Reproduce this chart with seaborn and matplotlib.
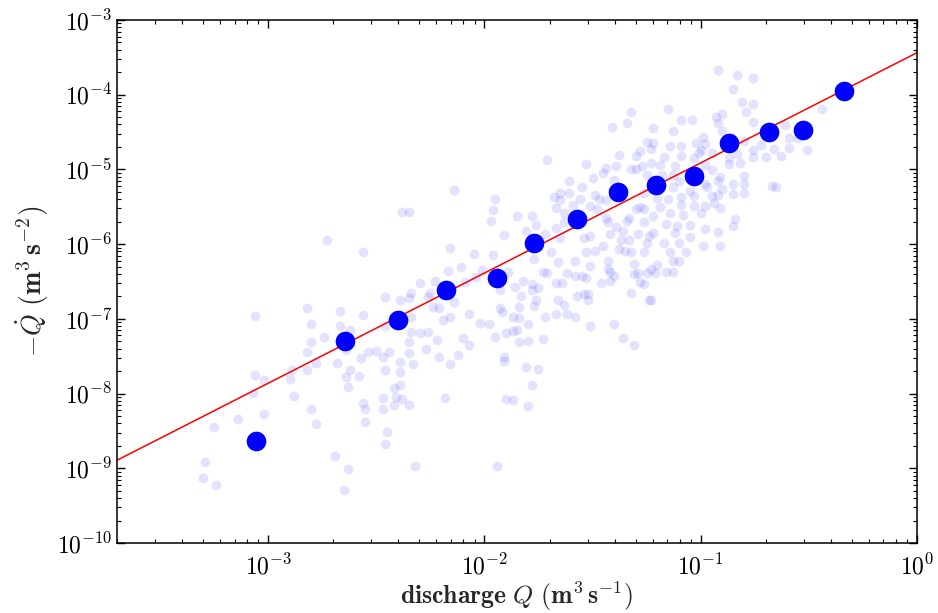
import numpy as np
import pandas as pd
import matplotlib
matplotlib.use("Agg")
import matplotlib.pyplot as plt
import seaborn as sns

# individual events, log10 of values
log_Q_events = [
    -2.73, -2.82, -2.67, -3.06, -2.80, -2.67, -2.74, -2.80, -2.82, -2.64,
    -2.78, -2.68, -2.82, -2.89, -2.90, -3.06, -3.02, -3.07, -2.88, -2.64,
    -2.63, -2.80, -3.02, -3.14, -2.78, -3.25, -2.69, -3.29, -3.30, -3.24,
    -2.63, -2.65,
    -2.14, -1.95, -1.96, -2.38, -2.35, -1.97, -1.91, -2.16, -2.56, -2.05,
    -1.96, -2.11, -2.17, -2.01, -2.23, -2.30, -2.09, -2.04, -2.34, -2.25,
    -2.46, -2.39, -2.35, -2.26, -1.93, -2.14, -2.24, -2.21, -1.93, -1.92,
    -2.56, -2.16, -2.07, -2.34, -2.19, -2.02, -1.98, -2.46, -2.62, -2.34,
    -2.30, -2.26, -1.95, -1.90, -2.10, -2.22, -2.35, -2.07, -2.27, -2.50,
    -2.54, -2.44, -2.47, -2.35, -2.57, -2.21, -2.12, -1.91, -1.91, -2.39,
    -2.33, -2.16, -2.46, -2.39, -2.62, -2.58, -2.42, -2.39, -2.47, -2.41,
    -2.38, -2.18, -1.90, -2.56, -2.55, -2.47, -2.42, -2.35, -2.55, -2.45,
    -2.46, -2.32, -1.94,
    -1.32, -1.34, -1.41, -1.25, -1.28, -1.38, -1.30, -1.71, -1.53, -1.39,
    -1.44, -1.32, -1.30, -1.45, -1.25, -1.50, -1.61, -1.40, -1.55, -1.65,
    -1.61, -1.49, -1.68, -1.56, -1.47, -1.44, -1.65, -1.67, -1.59, -1.51,
    -1.48, -1.28, -1.26, -1.30, -1.85, -1.78, -1.63, -1.44, -1.33, -1.43,
    -1.34, -1.26, -1.76, -1.63, -1.67, -1.39, -1.36, -1.81, -1.72, -1.65,
    -1.54, -1.51, -1.42, -1.29, -1.24, -1.37, -1.33, -1.45, -1.38, -1.35,
    -1.32, -1.53, -1.49, -1.69, -1.26, -1.77, -1.66, -1.58, -1.43, -1.31,
    -1.51, -1.43, -1.42, -1.73, -1.71, -1.89, -1.62, -1.29, -1.58, -1.55,
    -1.53, -1.40, -1.25, -1.31, -1.82, -1.78, -1.86, -1.75, -1.67, -1.64,
    -1.46, -1.42, -1.28, -1.26,
    -1.78, -1.83, -1.76, -1.77, -1.66, -1.63, -1.57, -1.54, -1.52, -1.52,
    -1.32, -1.24, -1.84, -1.87, -1.84, -1.72, -1.67, -1.62, -1.58, -1.80,
    -1.51, -1.40, -1.87, -1.85, -1.73, -1.84, -1.80, -1.36, -1.31, -1.81,
    -1.75, -1.78, -1.87, -1.80,
    -0.92, -0.83, -0.76, -0.85, -0.81, -0.76, -1.15, -0.79, -0.90, -0.93,
    -1.09, -1.04, -0.92, -0.76, -1.22, -1.13, -0.90, -0.61, -0.99, -1.22,
    -1.02, -1.09, -1.14, -0.98, -0.80, -0.59, -1.23, -1.00, -1.01, -0.95,
    -0.83, -0.76, -0.72, -0.66, -0.59, -1.17, -1.09, -1.03, -0.87, -0.76,
    -0.70, -0.63, -1.27, -1.23, -1.19, -1.12, -0.98, -0.87, -0.82, -0.95,
    -1.18, -1.13, -0.91, -0.80, -1.10, -0.98, -0.92, -0.85, -0.80, -1.13,
    -1.05, -0.97, -0.90, -0.67, -0.65, -1.26, -1.20, -1.15, -1.09, -1.03,
    -0.95, -0.92, -0.85, -0.80, -1.19, -1.09, -1.03, -0.98, -0.94, -0.91,
    -1.14, -1.08, -1.00, -1.22, -0.84, -1.16, -1.11, -1.05, -0.98, -0.85,
    -1.22, -1.12, -1.05, -0.92, -1.25, -1.17, -1.10, -0.99, -0.91, -1.14,
    -1.07,
    -1.13, -1.10, -1.20, -1.23, -1.21, -1.16, -1.13, -1.23,
    -0.44, -0.55, -0.51,
]
log_Qdot_events = [
    -5.94, -6.86, -6.89, -6.96, -7.07, -7.10, -7.24, -7.31, -7.45, -7.42,
    -7.59, -7.59, -7.68, -7.69, -7.81, -7.75, -7.82, -7.99, -8.03, -7.78,
    -7.91, -8.21, -8.27, -8.34, -8.41, -8.45, -8.84, -8.92, -9.13, -9.23,
    -9.01, -9.29,
    -5.28, -5.40, -5.54, -5.57, -5.57, -5.69, -5.88, -6.05, -6.10, -6.13,
    -6.15, -6.30, -6.36, -6.35, -6.49, -6.52, -6.51, -6.44, -6.66, -6.65,
    -6.71, -6.75, -6.72, -6.71, -6.62, -6.78, -6.84, -6.85, -6.86, -6.91,
    -6.95, -6.97, -6.93, -6.98, -7.02, -7.05, -7.07, -7.10, -7.15, -7.17,
    -7.19, -7.18, -7.24, -7.19, -7.26, -7.28, -7.31, -7.35, -7.40, -7.43,
    -7.45, -7.44, -7.51, -7.46, -7.52, -7.51, -7.48, -7.51, -7.56, -7.58,
    -7.60, -7.61, -7.68, -7.71, -7.69, -7.76, -7.92, -7.89, -8.06, -8.04,
    -8.07, -8.06, -8.07, -8.12, -8.20, -8.20, -8.15, -8.15, -8.38, -8.52,
    -8.68, -8.97, -8.97,
    -4.23, -4.38, -4.43, -4.63, -4.76, -4.81, -4.82, -4.87, -4.93, -4.95,
    -4.98, -4.99, -4.99, -5.05, -5.08, -5.11, -5.16, -5.14, -5.24, -5.31,
    -5.32, -5.34, -5.37, -5.39, -5.39, -5.41, -5.41, -5.51, -5.48, -5.49,
    -5.53, -5.50, -5.53, -5.53, -5.63, -5.62, -5.58, -5.65, -5.65, -5.71,
    -5.69, -5.71, -5.75, -5.70, -5.79, -5.77, -5.83, -5.83, -5.86, -5.92,
    -5.92, -5.89, -5.87, -5.86, -5.89, -5.95, -5.95, -6.03, -6.07, -6.09,
    -6.10, -6.10, -6.09, -6.11, -6.11, -6.20, -6.24, -6.22, -6.22, -6.26,
    -6.29, -6.33, -6.37, -6.37, -6.39, -6.37, -6.38, -6.38, -6.43, -6.42,
    -6.45, -6.42, -6.38, -6.40, -6.49, -6.54, -6.58, -6.59, -6.52, -6.52,
    -6.52, -6.49, -6.51, -6.54,
    -6.61, -6.69, -6.75, -6.83, -6.75, -6.81, -6.70, -6.67, -6.67, -6.75,
    -6.66, -6.75, -6.84, -6.97, -6.99, -6.98, -6.93, -6.93, -6.97, -7.07,
    -7.10, -7.07, -7.16, -7.15, -7.27, -7.31, -7.30, -7.26, -7.35, -7.64,
    -7.67, -7.88, -8.09, -8.16,
    -3.67, -3.74, -3.78, -3.93, -4.10, -4.13, -4.19, -4.23, -4.26, -4.30,
    -4.34, -4.34, -4.38, -4.37, -4.44, -4.48, -4.49, -4.41, -4.57, -4.64,
    -4.64, -4.69, -4.69, -4.66, -4.62, -4.58, -4.73, -4.74, -4.78, -4.78,
    -4.79, -4.74, -4.67, -4.73, -4.72, -4.83, -4.82, -4.85, -4.85, -4.84,
    -4.83, -4.82, -4.95, -4.92, -4.94, -4.96, -4.94, -4.93, -4.92, -5.01,
    -5.07, -5.08, -5.10, -5.09, -5.15, -5.20, -5.16, -5.19, -5.19, -5.24,
    -5.29, -5.23, -5.26, -5.22, -5.24, -5.32, -5.38, -5.40, -5.37, -5.36,
    -5.36, -5.34, -5.33, -5.32, -5.50, -5.48, -5.49, -5.49, -5.45, -5.51,
    -5.59, -5.61, -5.59, -5.62, -5.67, -5.73, -5.76, -5.74, -5.80, -5.76,
    -5.85, -5.85, -5.91, -5.84, -5.99, -5.98, -5.98, -6.02, -6.02, -6.10,
    -6.10,
    -6.22, -6.22, -6.28, -6.33, -6.39, -6.37, -6.37, -6.75,
    -4.19, -4.58, -4.74,
]

# binned averages (big dots)
Q_bins = [8.8e-4, 2.27e-3, 4.0e-3, 6.67e-3, 1.14e-2, 1.70e-2, 2.67e-2,
          4.13e-2, 6.19e-2, 9.29e-2, 0.135, 0.206, 0.296, 0.46]
Qdot_bins = [2.3e-9, 5.0e-8, 9.6e-8, 2.43e-7, 3.5e-7, 1.03e-6, 2.17e-6,
             4.99e-6, 6.18e-6, 8.17e-6, 2.25e-5, 3.17e-5, 3.37e-5, 1.11e-4]

# power-law fit line (end points)
fit_Q = [2e-4, 1.0]
fit_Qdot = [1.28e-9, 3.65e-4]

events = pd.DataFrame({"Q": 10.0 ** np.array(log_Q_events),
                       "Qdot": 10.0 ** np.array(log_Qdot_events)})
bins = pd.DataFrame({"Q": Q_bins, "Qdot": Qdot_bins})
fit = pd.DataFrame({"Q": fit_Q, "Qdot": fit_Qdot})

sns.set_style("ticks")
plt.rcParams["font.family"] = "serif"
plt.rcParams["font.serif"] = ["cmr10", "DejaVu Serif"]
plt.rcParams["mathtext.fontset"] = "cm"
plt.rcParams["axes.formatter.use_mathtext"] = True
plt.rcParams["axes.unicode_minus"] = False

fig = plt.figure(figsize=(9.38, 6.13), dpi=100)
ax = fig.add_axes([0.1247, 0.1142, 0.8529, 0.8532])

sns.scatterplot(data=events, x="Q", y="Qdot", color="blue", alpha=0.11,
                s=50, linewidth=0, ax=ax, zorder=1)
sns.lineplot(data=fit, x="Q", y="Qdot", color="red", linewidth=1.1,
             ax=ax, zorder=2)
sns.scatterplot(data=bins, x="Q", y="Qdot", color="blue", s=200,
                linewidth=0, ax=ax, zorder=3)

ax.set_xscale("log")
ax.set_yscale("log")
ax.set_xlim(2e-4, 1)
ax.set_ylim(1e-10, 1e-3)

ax.set_xlabel(r"$\mathbf{discharge}\ Q\ (\mathbf{m}^\mathbf{3}\,\mathbf{s}^{\mathbf{-1}})$",
              fontsize=18.5, labelpad=0)
ax.set_ylabel(r"$\mathbf{-}\dot{Q}\ (\mathbf{m}^\mathbf{3}\,\mathbf{s}^{\mathbf{-2}})$",
              fontsize=20, labelpad=4)

for side in ["top", "right", "left", "bottom"]:
    ax.spines[side].set_visible(True)
    ax.spines[side].set_linewidth(1.1)
    ax.spines[side].set_color("black")
ax.tick_params(which="both", direction="in", top=True, right=True,
               colors="black", labelsize=17)
ax.tick_params(which="major", length=6, width=1)
ax.tick_params(which="minor", length=3, width=0.8)
ax.tick_params(axis="x", pad=8)

fig.savefig("out.png", dpi=100)
